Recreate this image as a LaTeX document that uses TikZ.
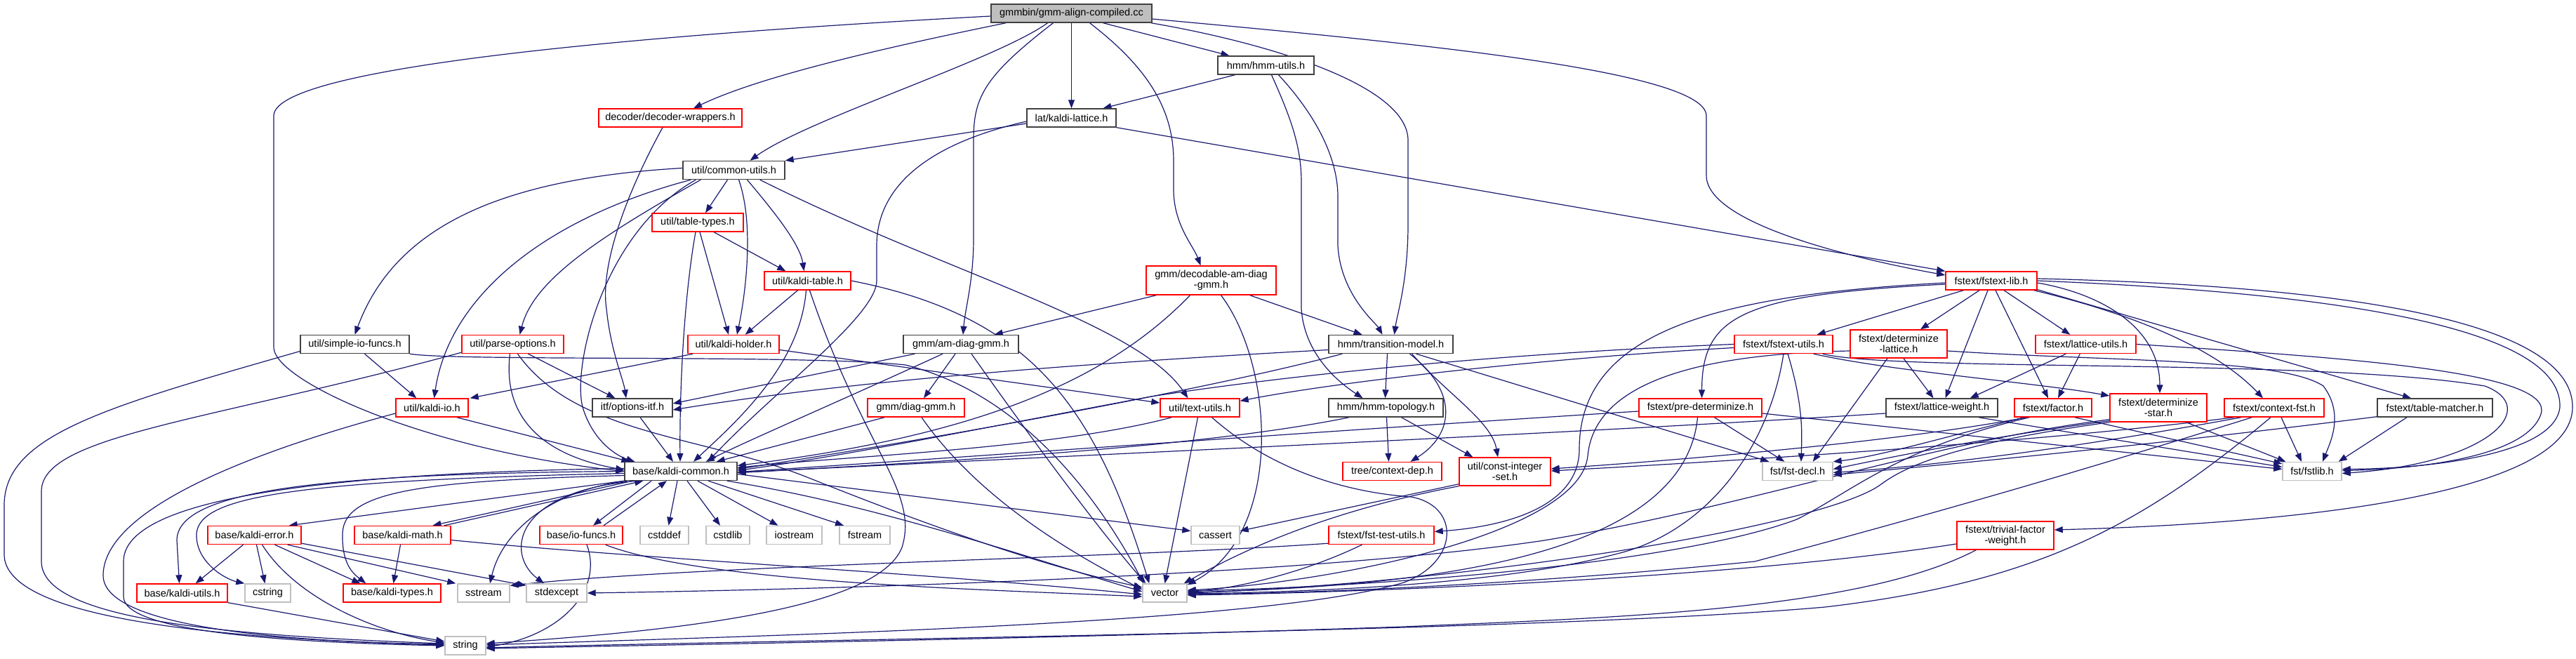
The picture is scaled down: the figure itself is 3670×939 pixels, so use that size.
\documentclass[tikz,border=0pt]{standalone}
\usepackage{fontspec}
\setmainfont{Liberation Sans}
\usetikzlibrary{arrows.meta,calc}
\pgfdeclarelayer{bg}
\pgfsetlayers{bg,main}
\definecolor{edgec}{HTML}{191970}
\definecolor{redb}{HTML}{FF0000}
\definecolor{grayb}{HTML}{BFBFBF}
\definecolor{blkb}{HTML}{404040}
\begin{document}
\begin{tikzpicture}[x=1pt,y=-1pt,
 edg/.style={draw=edgec, line width=1.2pt, -{Triangle[length=12pt,width=9pt]}},
 base/.style={rectangle, fill=white, inner sep=0pt, minimum height=26pt, font=\fontsize{14.5}{15}\selectfont, align=center, line width=1.4pt},
 nb/.style={base, draw=blkb},
 nr/.style={base, draw=redb},
 ng/.style={base, draw=grayb},
 nroot/.style={base, draw=blkb, fill=grayb},
 mw/.style={minimum width=#1pt},
 tall/.style={minimum height=40pt}]
\useasboundingbox (0,0) rectangle (3670,939);

% ---------------- nodes ----------------
\node[nroot,mw=229] (root) at (1526.5,19) {gmmbin/gmm-align-compiled.cc};
\node[nb,mw=137] (hmmutils) at (1803.5,93) {hmm/hmm-utils.h};
\node[nr,mw=204] (decw) at (955,168) {decoder/decoder-wrappers.h};
\node[nb,mw=127] (lattice) at (1526.5,168) {lat/kaldi-lattice.h};
\node[nb,mw=145] (cu) at (1045.5,242.5) {util/common-utils.h};
\node[nr,mw=130] (tabletypes) at (994,317) {util/table-types.h};
\node[nr,mw=123] (kalditable) at (1150.5,400) {util/kaldi-table.h};
\node[nr,mw=185,minimum height=41pt] (decodable) at (1725.5,399.5) {gmm/decodable-am-diag\\-gmm.h};
\node[nr,mw=130] (fstextlib) at (2837,400) {fstext/fstext-lib.h};
\node[nb,mw=155] (simpleio) at (505.5,490.5) {util/simple-io-funcs.h};
\node[nr,mw=145] (parseopt) at (730.5,490.5) {util/parse-options.h};
\node[nr,mw=130] (holder) at (1045,490.5) {util/kaldi-holder.h};
\node[nb,mw=164] (amdiag) at (1369,490.5) {gmm/am-diag-gmm.h};
\node[nb,mw=177] (tm) at (1981.5,490.5) {hmm/transition-model.h};
\node[nr,mw=140] (fstutils) at (2541,490.5) {fstext/fstext-utils.h};
\node[nr,mw=138,tall] (detlat) at (2705,490) {fstext/determinize\\-lattice.h};
\node[nr,mw=143] (latutils) at (2971.5,490.5) {fstext/lattice-utils.h};
\node[nr,mw=103] (kaldiio) at (615.5,581) {util/kaldi-io.h};
\node[nb,mw=114] (optitf) at (901,581) {itf/options-itf.h};
\node[nr,mw=138] (diaggmm) at (1305,581) {gmm/diag-gmm.h};
\node[nr,mw=113] (textutils) at (1709.5,581) {util/text-utils.h};
\node[nb,mw=163] (hmmtopo) at (1974.5,581) {hmm/hmm-topology.h};
\node[nr,mw=175] (predet) at (2422.5,581) {fstext/pre-determinize.h};
\node[nb,mw=159] (latweight) at (2766.5,581) {fstext/lattice-weight.h};
\node[nr,mw=110] (factor) at (2925,581) {fstext/factor.h};
\node[nr,mw=138,tall] (detstar) at (3075,581) {fstext/determinize\\-star.h};
\node[nr,mw=142] (contextfst) at (3240,581) {fstext/context-fst.h};
\node[nb,mw=164] (tablematcher) at (3469,581) {fstext/table-matcher.h};
\node[nb,mw=160] (kcommon) at (970,671.5) {base/kaldi-common.h};
\node[nr,mw=141] (contextdep) at (1983.5,671.5) {tree/context-dep.h};
\node[nr,mw=130,tall] (constint) at (2144,672) {util/const-integer\\-set.h};
\node[ng,mw=100] (fstdecl) at (2561,671.5) {fst/fst-decl.h};
\node[ng,mw=84] (fstlib) at (3294,671.5) {fst/fstlib.h};
\node[nr,mw=133] (kerror) at (362.5,762.5) {base/kaldi-error.h};
\node[nr,mw=137] (kmath) at (573.5,762.5) {base/kaldi-math.h};
\node[nr,mw=118] (iofuncs) at (828,762.5) {base/io-funcs.h};
\node[ng,mw=69] (cstddef) at (946.5,762.5) {cstddef};
\node[ng,mw=62] (cstdlib) at (1037,762.5) {cstdlib};
\node[ng,mw=79] (iostream) at (1131.5,762.5) {iostream};
\node[ng,mw=72] (fstream) at (1232,762.5) {fstream};
\node[ng,mw=69] (cassert) at (1731.5,762.5) {cassert};
\node[nr,mw=150] (ftu) at (1968,762.5) {fstext/fst-test-utils.h};
\node[nr,mw=138,tall] (tfw) at (2857,763) {fstext/trivial-factor\\-weight.h};
\node[nr,mw=129] (kutils) at (259.5,845) {base/kaldi-utils.h};
\node[ng,mw=65] (cstring) at (381.5,845) {cstring};
\node[nr,mw=139] (ktypes) at (558.5,845) {base/kaldi-types.h};
\node[ng,mw=74] (sstream) at (689,845) {sstream};
\node[ng,mw=86] (stdexcept) at (793,845) {stdexcept};
\node[ng,mw=63] (vector) at (1659.5,845) {vector};
\node[ng,mw=58] (string) at (663,920) {string};

% ---------------- edges ----------------
\begin{pgfonlayer}{bg}
% root
\draw[edg] ($(root.west)+(0,4)$) .. controls (1000,45) and (390,90) .. (390,165) -- (390,493) .. controls (385,540) and (600,640) .. (kcommon.west);
\draw[edg] ($(root.south west)+(22,0)$) .. controls (1250,70) and (1080,110) .. ($(decw.north)+(33,0)$);
\draw[edg] ($(root.south)+(-34,0)$) .. controls (1420,85) and (1150,170) .. ($(cu.north)+(23,0)$);
\draw[edg] ($(root.south)+(-26,0)$) .. controls (1400,110) and (1387,140) .. (1387,200) -- (1387,340) .. controls (1387,400) and (1375,440) .. ($(amdiag.north)+(3,0)$);
\draw[edg] (root) -- (lattice);
\draw[edg] ($(root.south)+(26,0)$) .. controls (1640,100) and (1672,160) .. (1672,230) -- (1672,270) .. controls (1672,320) and (1700,350) .. ($(decodable.north)+(-15,0)$);
\draw[edg] ($(root.south)+(45,0)$) -- ($(hmmutils.north)+(-52,0)$);
\draw[edg] ($(root.south east)+(-2,0)$) .. controls (1800,60) and (2006,120) .. (2006,200) -- (2006,320) .. controls (2006,400) and (1990,450) .. ($(tm.north)+(5,0)$);
\draw[edg] ($(root.east)+(0,8)$) .. controls (2000,60) and (2431,100) .. (2431,165) -- (2431,250) .. controls (2431,320) and (2650,370) .. ($(fstextlib.west)+(0,-8)$);
% hmm-utils
\draw[edg] ($(hmmutils.south)+(-44,0)$) -- ($(lattice.north)+(45,0)$);
\draw[edg] ($(hmmutils.south)+(8,0)$) .. controls (1840,170) and (1854,210) .. (1854,260) -- (1854,440) .. controls (1858,500) and (1900,540) .. ($(hmmtopo.north)+(-33,0)$);
\draw[edg] ($(hmmutils.south)+(18,0)$) .. controls (1880,170) and (1906,230) .. (1906,280) -- (1906,350) .. controls (1910,420) and (1960,460) .. ($(tm.north)+(-12,0)$);
% decoder-wrappers
\draw[edg] ($(decw.south)+(-11,0)$) .. controls (890,280) and (855,380) .. (864,440) .. controls (870,500) and (888,540) .. ($(optitf.north)+(-9,0)$);
% kaldi-lattice
\draw[edg] ($(lattice.west)+(0,8)$) -- (cu.north east);
\draw[edg] ($(lattice.west)+(0,5)$) .. controls (1300,210) and (1249,280) .. (1249,350) -- (1249,400) .. controls (1249,450) and (1100,560) .. ($(kcommon.north east)+(-42,0)$);
\draw[edg] (lattice.south east) -- (fstextlib.north west);
% common-utils
\draw[edg] ($(cu.west)+(0,-3)$) .. controls (700,255) and (560,330) .. (simpleio.north);
\draw[edg] ($(cu.south west)+(12,0)$) .. controls (780,310) and (640,420) .. ($(kaldiio.north)+(3,0)$);
\draw[edg] ($(cu.south west)+(26,0)$) .. controls (850,340) and (760,400) .. ($(parseopt.north)+(10,0)$);
\draw[edg] ($(cu.south west)+(19,0)$) .. controls (860,330) and (815,520) .. (830,580) .. controls (845,630) and (880,650) .. ($(kcommon.north west)+(15,0)$);
\draw[edg] ($(cu.south)+(-9,0)$) -- ($(tabletypes.north)+(11,0)$);
\draw[edg] ($(cu.south)+(7,0)$) .. controls (1075,320) and (1062,420) .. ($(holder.north)+(5,0)$);
\draw[edg] ($(cu.south)+(19,0)$) .. controls (1110,310) and (1140,350) .. ($(kalditable.north)+(-5,0)$);
\draw[edg] ($(cu.south east)+(-36,0)$) .. controls (1350,390) and (1620,460) .. ($(textutils.north)+(-17,0)$);
% table-types
\draw[edg] ($(tabletypes.south)+(-3,0)$) .. controls (975,420) and (968,550) .. ($(kcommon.north)+(-1,0)$);
\draw[edg] ($(tabletypes.south)+(3,0)$) -- ($(holder.north)+(-7,0)$);
\draw[edg] ($(tabletypes.south)+(23,0)$) -- ($(kalditable.north west)+(31,0)$);
% kaldi-table
\draw[edg] ($(kalditable.south)+(-14,0)$) -- ($(holder.north east)+(-49,0)$);
\draw[edg] ($(kalditable.south)+(-2,0)$) .. controls (1140,520) and (1050,600) .. ($(kcommon.north)+(18,0)$);
\draw[edg] ($(kalditable.south)+(3,0)$) .. controls (1230,640) and (1310,700) .. (1285,780) .. controls (1250,870) and (950,900) .. ($(string.east)+(0,-3)$);
\draw[edg] (kalditable.east) .. controls (1470,450) and (1560,580) .. ($(vector.north west)+(10,0)$);
% decodable
\draw[edg] ($(decodable.south west)+(15,0)$) -- ($(amdiag.north east)+(-35,0)$);
\draw[edg] ($(decodable.south)+(-30,0)$) .. controls (1580,540) and (1400,620) .. ($(kcommon.east)+(0,-8)$);
\draw[edg] ($(decodable.south)+(14,0)$) .. controls (1815,520) and (1830,760) .. ($(vector.north east)+(0,2)$);
\draw[edg] ($(decodable.south east)+(-38,0)$) -- ($(tm.north)+(-41,0)$);
% am-diag-gmm
\draw[edg] ($(amdiag.south west)+(17,0)$) -- ($(optitf.east)+(0,-6)$);
\draw[edg] ($(amdiag.south)+(-26,0)$) .. controls (1200,570) and (1060,630) .. ($(kcommon.north east)+(-45,0)$);
\draw[edg] ($(amdiag.south)+(-8,0)$) -- ($(diaggmm.north)+(11,0)$);
\draw[edg] ($(amdiag.south)+(15,0)$) .. controls (1480,640) and (1570,760) .. ($(vector.north west)+(5,0)$);
% diag-gmm
\draw[edg] ($(diaggmm.south west)+(25,0)$) -- ($(kcommon.north east)+(-30,0)$);
\draw[edg] ($(diaggmm.south)+(8,0)$) .. controls (1400,720) and (1550,800) .. ($(vector.west)+(0,-5)$);
% kaldi-holder
\draw[edg] ($(holder.south west)+(8,0)$) -- ($(kaldiio.north east)+(2,0)$);
\draw[edg] ($(holder.east)+(0,8)$) -- ($(textutils.west)+(0,-7)$);
% options-itf
\draw[edg] ($(optitf.south)+(11,0)$) -- ($(kcommon.north)+(-11,0)$);
% parse-options
\draw[edg] ($(parseopt.south west)+(0,-2)$) .. controls (300,600) and (59,620) .. (59,700) -- (59,800) .. controls (59,880) and (300,905) .. ($(string.west)+(0,-3)$);
\draw[edg] ($(parseopt.south)+(-4,0)$) .. controls (715,600) and (780,650) .. ($(kcommon.west)+(0,-2)$);
\draw[edg] ($(parseopt.south)+(7,0)$) .. controls (820,620) and (1000,620) .. (1150,680) .. controls (1350,760) and (1500,810) .. ($(vector.west)+(0,-8)$);
\draw[edg] ($(parseopt.south)+(22,0)$) -- ($(optitf.north west)+(33,0)$);
% simple-io-funcs
\draw[edg] ($(simpleio.west)+(0,10)$) .. controls (150,580) and (6,620) .. (6,720) -- (6,790) .. controls (6,880) and (300,910) .. ($(string.west)+(0,-1)$);
\draw[edg] ($(simpleio.south)+(14,0)$) -- ($(kaldiio.north west)+(30,0)$);
\draw[edg] (simpleio.south east) .. controls (650,515) and (1150,505) .. (1290,520) .. controls (1450,560) and (1560,700) .. ($(vector.north west)+(2,0)$);
% kaldi-io
\draw[edg] ($(kaldiio.west)+(0,8)$) .. controls (300,660) and (147,740) .. (147,820) .. controls (147,900) and (450,915) .. ($(string.west)+(0,-2)$);
\draw[edg] ($(kaldiio.south east)+(-17,0)$) -- ($(kcommon.north west)+(8,0)$);
% text-utils
\draw[edg] ($(textutils.south west)+(17,0)$) .. controls (1500,640) and (1200,650) .. ($(kcommon.east)+(0,-5)$);
\draw[edg] ($(textutils.south)+(-3,0)$) -- (vector.north);
\draw[edg] ($(textutils.south)+(17,0)$) .. controls (1800,660) and (1900,700) .. (2010,708) .. controls (2080,720) and (2080,800) .. (2000,830) .. controls (1800,890) and (1100,905) .. ($(string.east)+(0,-1)$);
% kaldi-common
\draw[edg] (kcommon.west) .. controls (450,675) and (252,700) .. (252,770) -- ($(kutils.north)+(-4,0)$);
\draw[edg] ($(kcommon.west)+(0,3)$) .. controls (400,685) and (285,710) .. (280,760) .. controls (278,800) and (320,825) .. (cstring.north west);
\draw[edg] ($(kcommon.west)+(0,-4)$) .. controls (400,675) and (176,720) .. (176,800) -- (176,850) .. controls (176,900) and (400,915) .. (string.west);
\draw[edg] ($(kcommon.west)+(0,6)$) .. controls (600,685) and (490,700) .. (488,760) .. controls (487,800) and (500,815) .. ($(ktypes.north west)+(33,0)$);
\draw[edg] (kcommon.south west) -- ($(kerror.north east)+(-18,0)$);
\draw[edg] ($(kcommon.south west)+(12,0)$) -- ($(kmath.north)+(43,0)$);
\draw[edg] ($(kmath.north east)+(-10,0)$) -- ($(kcommon.south west)+(27,0)$);
\draw[edg] ($(kcommon.south)+(-42,0)$) -- ($(iofuncs.north)+(17,0)$);
\draw[edg] ($(iofuncs.north)+(32,0)$) -- ($(kcommon.south)+(-20,0)$);
\draw[edg] ($(kcommon.south west)+(4,0)$) .. controls (780,700) and (715,760) .. ($(sstream.north)+(9,0)$);
\draw[edg] ($(kcommon.south west)+(18,0)$) .. controls (730,700) and (720,790) .. ($(stdexcept.north)+(-18,0)$);
\draw[edg] ($(kcommon.south)+(-5,0)$) -- ($(cstddef.north)+(6,0)$);
\draw[edg] ($(kcommon.south)+(9,0)$) -- ($(cstdlib.north)+(-11,0)$);
\draw[edg] ($(kcommon.south)+(24,0)$) -- ($(iostream.north)+(-23,0)$);
\draw[edg] ($(kcommon.south)+(39,0)$) -- ($(fstream.north)+(-30,0)$);
\draw[edg] ($(kcommon.east)+(0,4)$) -- ($(cassert.west)+(0,-6)$);
\draw[edg] ($(kcommon.south east)+(-15,0)$) .. controls (1250,720) and (1450,790) .. ($(vector.west)+(0,-2)$);
% kaldi-error
\draw[edg] ($(kerror.south)+(-16,0)$) -- ($(kutils.north east)+(-46,0)$);
\draw[edg] ($(kerror.south)+(3,0)$) -- ($(cstring.north)+(-4,0)$);
\draw[edg] ($(kerror.south)+(11,0)$) .. controls (420,850) and (530,900) .. ($(string.west)+(0,-4)$);
\draw[edg] ($(kerror.south)+(29,0)$) -- ($(ktypes.north west)+(25,0)$);
\draw[edg] ($(kerror.south east)+(-20,0)$) -- ($(sstream.north west)+(-2,0)$);
\draw[edg] ($(kerror.south east)+(0,-2)$) -- ($(stdexcept.north west)+(0,3)$);
% kaldi-math
\draw[edg] ($(kmath.south)+(-3,0)$) -- ($(ktypes.north)+(2,0)$);
\draw[edg] ($(kmath.east)+(0,7)$) .. controls (900,795) and (1300,815) .. ($(vector.west)+(0,2)$);
% io-funcs
\draw[edg] ($(iofuncs.south)+(8,0)$) .. controls (860,840) and (800,905) .. ($(string.east)+(0,2)$);
\draw[edg] ($(iofuncs.south east)+(-25,0)$) .. controls (1000,830) and (1400,840) .. ($(vector.west)+(0,5)$);
% kaldi-utils
\draw[edg] (kutils.south east) -- ($(string.west)+(0,-6)$);
% transition-model
\draw[edg] ($(tm.west)+(0,8)$) .. controls (1500,520) and (1200,545) .. ($(optitf.east)+(0,3)$);
\draw[edg] ($(tm.south west)+(20,0)$) .. controls (1700,560) and (1300,630) .. ($(kcommon.east)+(0,-3)$);
\draw[edg] ($(tm.south)+(-5,0)$) -- ($(hmmtopo.north)+(-1,0)$);
\draw[edg] ($(tm.south)+(27,0)$) .. controls (2080,560) and (2070,620) .. ($(contextdep.north)+(26,0)$);
\draw[edg] ($(tm.south)+(30,0)$) .. controls (2060,560) and (2125,600) .. ($(constint.north)+(-10,0)$);
\draw[edg] ($(tm.south)+(36,0)$) -- ($(fstdecl.north west)+(10,0)$);
% hmm-topology
\draw[edg] ($(hmmtopo.south west)+(30,0)$) .. controls (1700,640) and (1300,660) .. ($(kcommon.east)+(0,2)$);
\draw[edg] ($(hmmtopo.south)+(1,0)$) -- ($(contextdep.north)+(-5,0)$);
\draw[edg] ($(hmmtopo.south)+(22,0)$) -- ($(constint.north west)+(20,0)$);
% const-integer-set
\draw[edg] ($(constint.south west)+(0,-3)$) -- ($(cassert.east)+(0,-6)$);
\draw[edg] (constint.south west) .. controls (1880,730) and (1760,790) .. ($(vector.north east)+(-5,0)$);
% fst-test-utils
\draw[edg] ($(ftu.south west)+(0,-2)$) .. controls (1600,795) and (1000,805) .. ($(sstream.north east)+(0,3)$);
\draw[edg] ($(ftu.south west)+(48,0)$) .. controls (1850,820) and (1750,840) .. ($(vector.east)+(0,-2)$);
% fstext-lib
\draw[edg] ($(fstextlib.south west)+(26,0)$) -- ($(fstutils.north east)+(-23,0)$);
\draw[edg] ($(fstextlib.south)+(-17,0)$) -- ($(detlat.north)+(31,0)$);
\draw[edg] ($(fstextlib.south)+(-5,0)$) -- ($(latweight.north)+(5,0)$);
\draw[edg] ($(fstextlib.south)+(6,0)$) -- ($(factor.north)+(-7,0)$);
\draw[edg] ($(fstextlib.south)+(18,0)$) -- ($(latutils.north west)+(50,0)$);
\draw[edg] ($(fstextlib.east)+(0,3)$) .. controls (3000,420) and (3077,470) .. ($(detstar.north)+(2,0)$);
\draw[edg] ($(fstextlib.south east)+(-5,0)$) .. controls (3050,450) and (3160,500) .. ($(contextfst.north)+(-16,0)$);
\draw[edg] ($(fstextlib.south east)+(0,-1)$) -- ($(tablematcher.north)+(-34,0)$);
\draw[edg] (fstextlib.east) .. controls (3400,420) and (3650,480) .. (3647,580) .. controls (3640,650) and (3450,668) .. ($(fstlib.east)+(0,-3)$);
\draw[edg] ($(fstextlib.east)+(0,-3)$) .. controls (3450,410) and (3665,480) .. (3665,580) .. controls (3665,700) and (3300,745) .. ($(tfw.east)+(0,-8)$);
\draw[edg] ($(fstextlib.west)+(0,5)$) .. controls (2480,420) and (2425,450) .. ($(predet.north)+(2,0)$);
\draw[edg] ($(fstextlib.west)+(0,3)$) .. controls (2450,420) and (2250,470) .. (2250,640) .. controls (2250,720) and (2150,750) .. ($(ftu.east)+(0,-5)$);
% fstext-utils
\draw[edg] (fstutils.west) .. controls (2100,505) and (1800,540) .. (1640,565) .. controls (1400,610) and (1200,650) .. ($(kcommon.east)+(0,-1)$);
\draw[edg] ($(fstutils.west)+(0,5)$) .. controls (2200,510) and (1900,545) .. ($(textutils.north east)+(0,4)$);
\draw[edg] (fstutils.south) .. controls (2520,640) and (2430,760) .. (2300,790) .. controls (2150,830) and (1900,843) .. ($(vector.east)+(0,1)$);
\draw[edg] ($(fstutils.south)+(6,0)$) .. controls (2570,580) and (2567,620) .. ($(fstdecl.north)+(5,0)$);
\draw[edg] ($(fstutils.south east)+(-28,0)$) .. controls (2700,530) and (2900,545) .. ($(detstar.west)+(0,-17)$);
\draw[edg] ($(fstutils.south east)+(-15,0)$) .. controls (2700,530) and (3300,510) .. (3540,550) .. controls (3620,580) and (3550,660) .. ($(fstlib.east)+(0,3)$);
% determinize-lattice
\draw[edg] ($(detlat.east)+(0,10)$) .. controls (3000,515) and (3250,510) .. (3310,550) .. controls (3340,590) and (3320,630) .. ($(fstlib.north)+(15,0)$);
\draw[edg] ($(detlat.south)+(7,0)$) -- ($(latweight.north)+(-12,0)$);
\draw[edg] ($(detlat.south)+(-16,0)$) -- ($(fstdecl.north east)+(-29,0)$);
\draw[edg] ($(detlat.west)+(0,10)$) .. controls (2380,505) and (2270,560) .. (2262,650) .. controls (2250,760) and (1900,830) .. ($(vector.east)+(0,-4)$);
% lattice-utils
\draw[edg] ($(latutils.south west)+(44,0)$) -- ($(latweight.north east)+(-40,0)$);
\draw[edg] ($(latutils.south west)+(64,0)$) -- ($(factor.north)+(7,0)$);
\draw[edg] (latutils.east) .. controls (3350,510) and (3640,530) .. (3620,590) .. controls (3600,650) and (3450,668) .. ($(fstlib.east)+(0,-1)$);
% pre-determinize
\draw[edg] ($(predet.west)+(0,5)$) .. controls (1800,620) and (1400,650) .. ($(kcommon.east)+(0,1)$);
\draw[edg] ($(predet.south)+(-4,0)$) .. controls (2400,790) and (2050,835) .. ($(vector.east)+(0,-1)$);
\draw[edg] ($(predet.south)+(20,0)$) -- ($(fstdecl.north west)+(32,0)$);
\draw[edg] ($(predet.east)+(0,8)$) -- ($(fstlib.west)+(0,-3)$);
% lattice-weight
\draw[edg] ($(latweight.west)+(0,8)$) .. controls (2200,620) and (1500,650) .. ($(kcommon.east)+(0,2)$);
\draw[edg] ($(latweight.south east)+(-28,0)$) -- ($(fstlib.west)+(0,-6)$);
% factor
\draw[edg] ($(factor.south west)+(18,0)$) .. controls (2700,630) and (2400,655) .. ($(constint.east)+(0,-4)$);
\draw[edg] ($(factor.south west)+(15,0)$) .. controls (2780,620) and (2680,650) .. (fstdecl.north east);
\draw[edg] ($(factor.south west)+(22,0)$) .. controls (2700,640) and (2640,700) .. (2560,740) .. controls (2400,800) and (2000,835) .. ($(vector.east)+(0,-3)$);
\draw[edg] ($(factor.south east)+(-25,0)$) -- ($(fstlib.north west)+(0,3)$);
% determinize-star
\draw[edg] ($(detstar.south east)+(-30,0)$) -- ($(fstlib.north west)+(5,0)$);
\draw[edg] ($(detstar.south west)+(0,-2)$) .. controls (2850,620) and (2700,650) .. ($(fstdecl.east)+(0,-3)$);
\draw[edg] (detstar.south west) .. controls (2800,630) and (2720,660) .. (2680,690) .. controls (2600,750) and (2100,830) .. (vector.east);
\draw[edg] ($(detstar.south west)+(0,-4)$) .. controls (2750,630) and (2500,720) .. (2200,770) .. controls (1900,815) and (1300,838) .. (stdexcept.east);
% context-fst
\draw[edg] ($(contextfst.south)+(10,0)$) -- ($(fstlib.north)+(-15,0)$);
\draw[edg] ($(contextfst.south west)+(15,0)$) .. controls (2900,630) and (2500,655) .. ($(constint.east)+(0,-1)$);
\draw[edg] ($(contextfst.south west)+(25,0)$) .. controls (3000,630) and (2800,660) .. ($(fstdecl.east)+(0,2)$);
\draw[edg] ($(contextfst.south west)+(40,0)$) .. controls (3000,660) and (2800,720) .. (2500,800) .. controls (2200,830) and (1900,845) .. ($(vector.east)+(0,2)$);
\draw[edg] ($(contextfst.south)+(-5,0)$) .. controls (3050,750) and (2900,830) .. (2600,865) .. controls (2200,900) and (1200,910) .. ($(string.east)+(0,3)$);
% table-matcher
\draw[edg] ($(tablematcher.south)+(-40,0)$) -- ($(fstlib.north east)+(-5,0)$);
\draw[edg] ($(tablematcher.south west)+(0,-1)$) .. controls (3100,630) and (2800,660) .. ($(fstdecl.east)+(0,5)$);
% trivial-factor-weight
\draw[edg] ($(tfw.south west)+(28,0)$) .. controls (2650,870) and (2300,880) .. (2000,893) .. controls (1500,910) and (1000,918) .. ($(string.east)+(0,4)$);
\draw[edg] ($(tfw.west)+(0,12)$) .. controls (2500,820) and (2000,843) .. ($(vector.east)+(0,3)$);
\end{pgfonlayer}
\end{tikzpicture}
\end{document}
